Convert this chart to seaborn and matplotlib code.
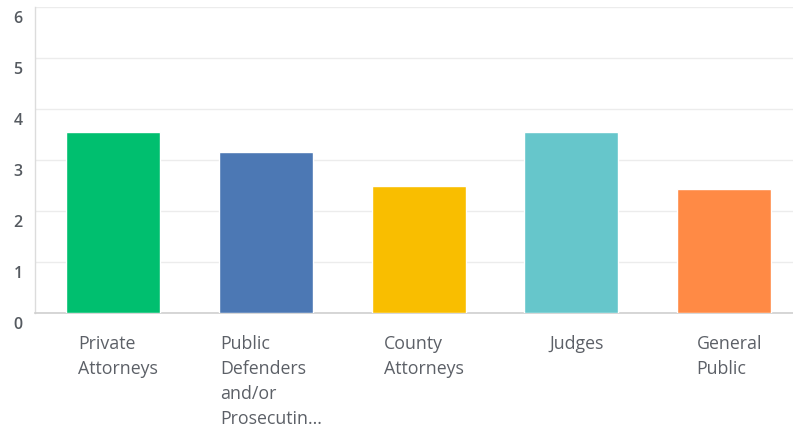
import matplotlib
matplotlib.use("Agg")
import matplotlib.pyplot as plt
import matplotlib.transforms as mtransforms
import seaborn as sns
import pandas as pd

categories = ["Private\nAttorneys", "Public\nDefenders\nand/or\nProsecutin...",
              "County\nAttorneys", "Judges", "General\nPublic"]
values = [3.55, 3.15, 2.49, 3.55, 2.43]
colors = ["#00BF6F", "#4C78B4", "#F9BE00", "#66C6CB", "#FF8A45"]
yticks = [0, 1, 2, 3, 4, 5, 6]

df = pd.DataFrame({"group": categories, "score": values})

sns.set_theme(style="white")
plt.rcParams["font.family"] = ["Open Sans", "DejaVu Sans"]

fig = plt.figure(figsize=(7.93, 4.33), dpi=100)
ax = fig.add_axes([35 / 793, 120 / 433, 1 - 35 / 793, 306 / 433])

sns.barplot(data=df, x="group", y="score", hue="group", palette=colors,
            legend=False, width=0.615, saturation=1, ax=ax, zorder=3)

ax.set_ylim(0, 6)
ax.set_xlim(-0.51, 4.45)
ax.set_yticks(yticks)
ax.set_yticklabels([str(t) for t in yticks])
ax.grid(axis="y", color="#ececec", linewidth=1, zorder=0)
ax.set_axisbelow(True)
ax.set_xlabel("")
ax.set_ylabel("")

for side in ["top", "right"]:
    ax.spines[side].set_visible(False)
ax.spines["left"].set_color("#dcdcdc")
ax.spines["bottom"].set_color("#cfcfcf")
ax.spines["left"].set_linewidth(1)
ax.spines["bottom"].set_linewidth(1.2)

ax.tick_params(axis="y", length=0, pad=9, labelsize=11.5, labelcolor="#555a60")
ax.tick_params(axis="x", length=0, pad=16, labelsize=12.8, labelcolor="#5c6067")

shift_y = mtransforms.ScaledTranslation(0, -10 / 100, fig.dpi_scale_trans)
for lab in ax.get_yticklabels():
    lab.set_transform(lab.get_transform() + shift_y)
    lab.set_fontweight("semibold")

shift_x = mtransforms.ScaledTranslation(5 / 100, 0, fig.dpi_scale_trans)
for lab in ax.get_xticklabels():
    lab.set_transform(lab.get_transform() + shift_x)
    lab.set_horizontalalignment("center")
    lab.set_multialignment("left")
    lab.set_linespacing(1.5)

fig.savefig("out.png", dpi=100)
